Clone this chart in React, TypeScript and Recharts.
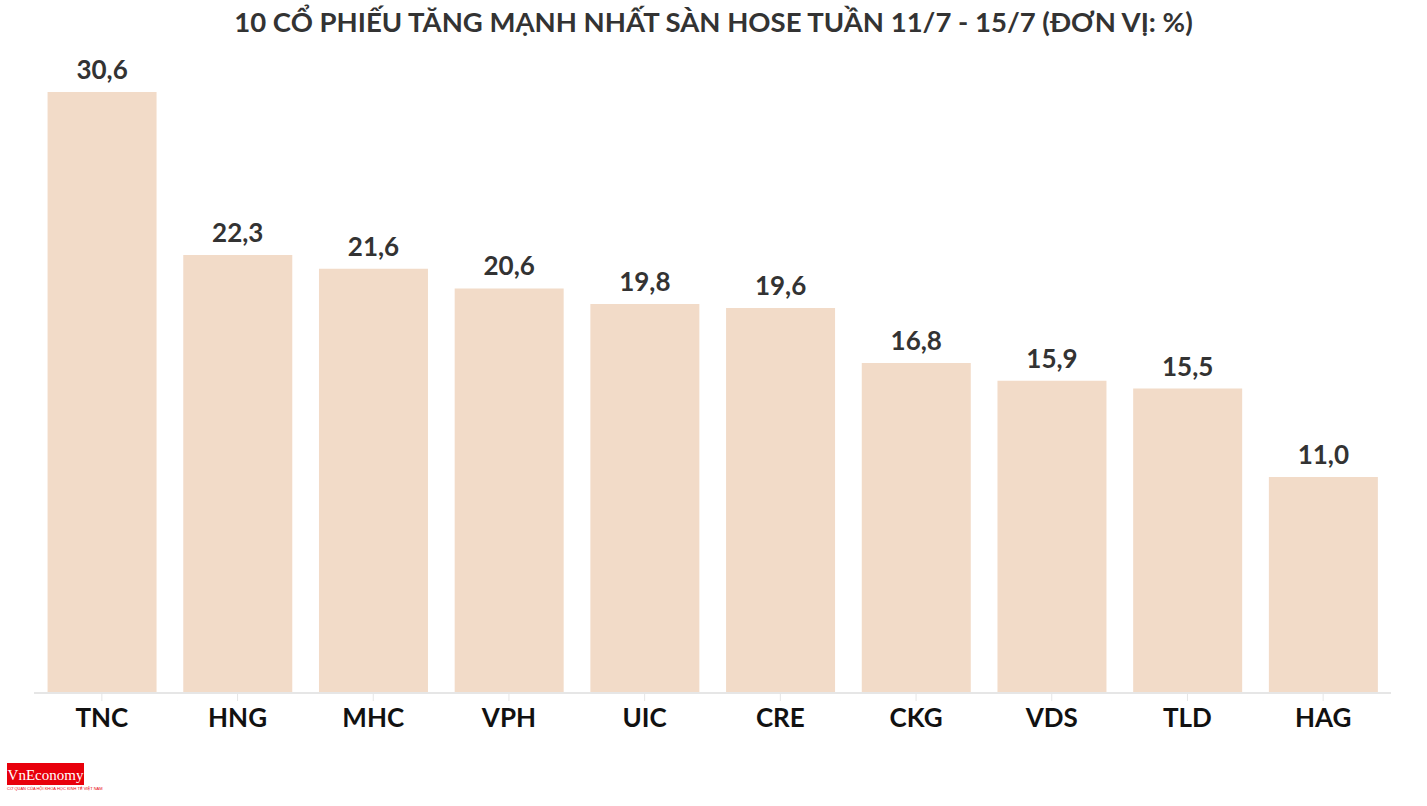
import React from "react";
import { BarChart, Bar, XAxis, YAxis, LabelList, Cell } from "recharts";

const categories = ["TNC", "HNG", "MHC", "VPH", "UIC", "CRE", "CKG", "VDS", "TLD", "HAG"];
const values = [30.6, 22.3, 21.6, 20.6, 19.8, 19.6, 16.8, 15.9, 15.5, 11.0];
const title = "10 CỔ PHIẾU TĂNG MẠNH NHẤT SÀN HOSE TUẦN 11/7 - 15/7 (ĐƠN VỊ: %)";

const data = categories.map((c, i) => ({ name: c, value: values[i] }));

const FONT = "'Source Sans Pro', 'Lato', 'Noto Sans', sans-serif";

const fmt = (v: any) => Number(v).toFixed(1).replace(".", ",");

export default function App() {
  return (
    <div style={{ position: "absolute", left: 0, top: 0, width: 1427, height: 806, background: "#fff", fontFamily: FONT }}>
      <div
        style={{
          position: "absolute",
          left: 0,
          top: 4,
          width: 1427,
          textAlign: "center",
          fontSize: 27.5,
          fontWeight: 700,
          color: "#333",
          fontFamily: FONT,
          lineHeight: "36px",
        }}
      >
        {title}
      </div>
      <BarChart
        width={1427}
        height={806}
        data={data}
        margin={{ top: 92, right: 36, left: 34, bottom: 63 }}
        barCategoryGap="10%"
      >
        <YAxis hide domain={[0, 30.6]} />
        <XAxis
          dataKey="name"
          height={50}
          axisLine={{ stroke: "#e6e6e6", strokeWidth: 2 }}
          tickLine={{ stroke: "#e6e6e6", strokeWidth: 1 }}
          tickSize={8}
          tick={{ fill: "#111", fontSize: 26, fontWeight: 700, fontFamily: FONT }}
          interval={0}
          dy={6}
        />
        <Bar dataKey="value" fill="#f2dbc8" isAnimationActive={false}>
          {data.map((d) => (
            <Cell key={d.name} fill="#f2dbc8" />
          ))}
          <LabelList
            dataKey="value"
            position="top"
            offset={13}
            formatter={fmt}
            style={{ fill: "#333", fontSize: 26, fontWeight: 700, fontFamily: FONT }}
          />
        </Bar>
      </BarChart>
      <div style={{ position: "absolute", left: 7, top: 763, width: 77, height: 22, background: "#e8000b", color: "#fff", fontFamily: "'Liberation Serif', serif", fontSize: 15, lineHeight: "24px", textAlign: "center" }}>
        VnEconomy
      </div>
      <div style={{ position: "absolute", left: 7, top: 786, width: 80, fontSize: 4, color: "#e8000b", fontFamily: "sans-serif", whiteSpace: "nowrap" }}>
        CƠ QUAN CỦA HỘI KHOA HỌC KINH TẾ VIỆT NAM
      </div>
    </div>
  );
}
